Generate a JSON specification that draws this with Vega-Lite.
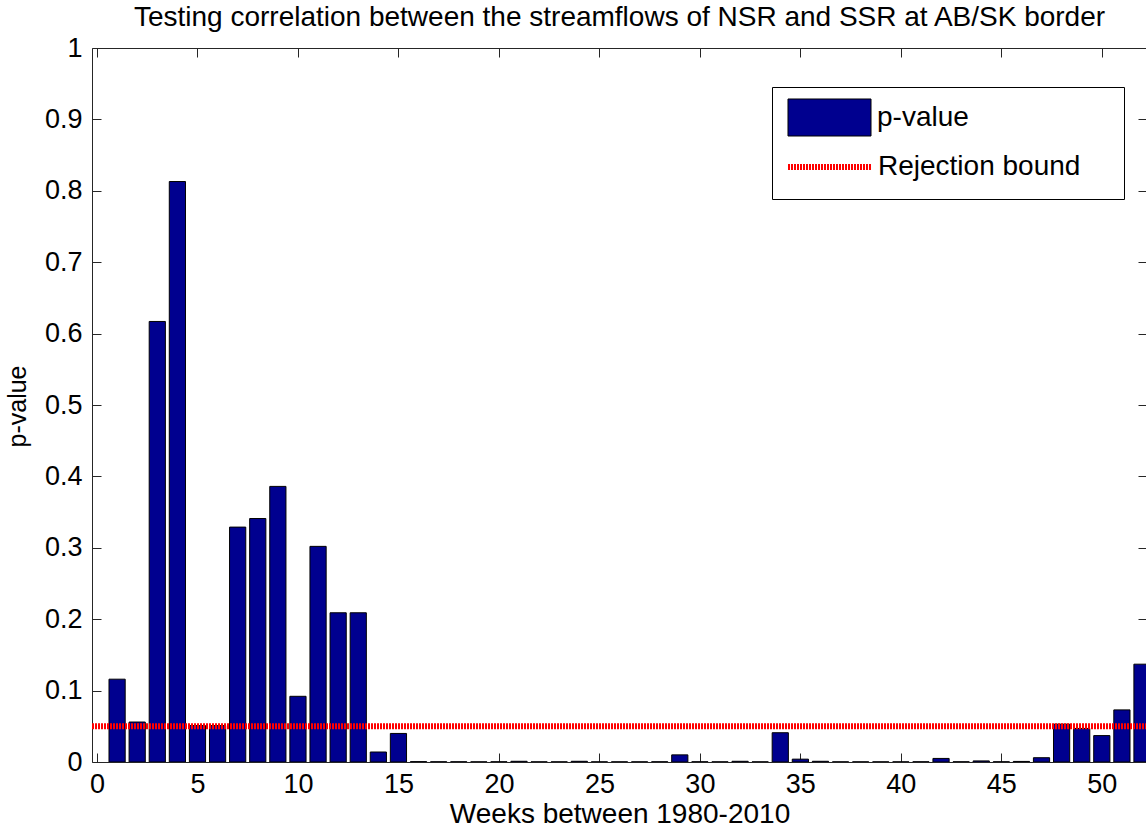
{
  "$schema": "https://vega.github.io/schema/vega-lite/v6.json",
  "width": 1055,
  "height": 714,
  "autosize": {"type": "none"},
  "padding": {"left": 92, "top": 48, "right": 0, "bottom": 67},
  "background": "white",
  "title": {
    "text": "Testing correlation between the streamflows of NSR and SSR at AB/SK border",
    "fontSize": 28,
    "font": "Liberation Sans",
    "fontWeight": "normal",
    "color": "black",
    "anchor": "middle",
    "baseline": "alphabetic",
    "offset": -20,
    "frame": "group"
  },
  "data": {
    "values": [
      {"week": 1, "p": 0.116}, {"week": 2, "p": 0.056}, {"week": 3, "p": 0.617}, {"week": 4, "p": 0.813},
      {"week": 5, "p": 0.051}, {"week": 6, "p": 0.051}, {"week": 7, "p": 0.329}, {"week": 8, "p": 0.341},
      {"week": 9, "p": 0.386}, {"week": 10, "p": 0.092}, {"week": 11, "p": 0.302}, {"week": 12, "p": 0.209},
      {"week": 13, "p": 0.209}, {"week": 14, "p": 0.014}, {"week": 15, "p": 0.040}, {"week": 16, "p": 0.0005},
      {"week": 17, "p": 0.0003}, {"week": 18, "p": 0.0003}, {"week": 19, "p": 0.0002}, {"week": 20, "p": 0.0003},
      {"week": 21, "p": 0.001}, {"week": 22, "p": 0.0002}, {"week": 23, "p": 0.0002}, {"week": 24, "p": 0.001},
      {"week": 25, "p": 0.0002}, {"week": 26, "p": 0.0002}, {"week": 27, "p": 0.0002}, {"week": 28, "p": 0.0003},
      {"week": 29, "p": 0.010}, {"week": 30, "p": 0.0003}, {"week": 31, "p": 0.0002}, {"week": 32, "p": 0.001},
      {"week": 33, "p": 0.0002}, {"week": 34, "p": 0.041}, {"week": 35, "p": 0.004}, {"week": 36, "p": 0.001},
      {"week": 37, "p": 0.0002}, {"week": 38, "p": 0.0002}, {"week": 39, "p": 0.0002}, {"week": 40, "p": 0.0002},
      {"week": 41, "p": 0.0003}, {"week": 42, "p": 0.005}, {"week": 43, "p": 0.0003}, {"week": 44, "p": 0.0015},
      {"week": 45, "p": 0.0003}, {"week": 46, "p": 0.0008}, {"week": 47, "p": 0.006}, {"week": 48, "p": 0.053},
      {"week": 49, "p": 0.047}, {"week": 50, "p": 0.037}, {"week": 51, "p": 0.073}, {"week": 52, "p": 0.137}
    ]
  },
  "layer": [
    {
      "mark": {"type": "bar", "width": 16.2, "stroke": "black", "strokeWidth": 1, "clip": true},
      "encoding": {
        "x": {
          "field": "week",
          "type": "quantitative",
          "scale": {"domain": [0, 52], "nice": false, "zero": false},
          "axis": {
            "orient": "bottom",
            "values": [0, 5, 10, 15, 20, 25, 30, 35, 40, 45, 50],
            "format": "d",
            "tickSize": -9,
            "tickColor": "#262626",
            "labelPadding": 18,
            "labelFontSize": 27,
            "labelColor": "black",
            "labelFlush": false,
            "domain": false,
            "grid": false,
            "title": "Weeks between 1980-2010",
            "titleFontSize": 28,
            "titleFontWeight": "normal",
            "titleColor": "black",
            "titleBaseline": "alphabetic",
            "titleY": 60
          }
        },
        "y": {
          "field": "p",
          "type": "quantitative",
          "scale": {"domain": [0, 1], "nice": false},
          "axis": {
            "orient": "left",
            "values": [0, 0.1, 0.2, 0.3, 0.4, 0.5, 0.6, 0.7, 0.8, 0.9, 1],
            "format": "~g",
            "tickSize": -9,
            "tickColor": "#262626",
            "labelPadding": 19,
            "labelFontSize": 27,
            "labelColor": "black",
            "labelFlush": false,
            "domain": false,
            "grid": false,
            "title": "p-value",
            "titleFontSize": 25,
            "titleFontWeight": "normal",
            "titleColor": "black",
            "titleBaseline": "alphabetic",
            "titleAlign": "center",
            "titleX": -67,
            "titleY": 358
          }
        },
        "fill": {
          "datum": "p-value",
          "scale": {"domain": ["p-value"], "range": ["#00008F"]},
          "legend": {
            "orient": "none",
            "legendX": 680,
            "legendY": 39,
            "zindex": 1,
            "direction": "vertical",
            "title": null,
            "padding": 12,
            "strokeColor": "black",
            "fillColor": "white",
            "symbolType": "M-2.306,-1.028H2.306V1.028H-2.306Z M15.55,0 M0,3.72",
            "symbolSize": 1296,
            "symbolStrokeWidth": 1,
            "symbolStrokeColor": "black",
            "symbolOpacity": 1,
            "symbolOffset": 27,
            "labelOffset": 29,
            "labelFontSize": 28,
            "labelColor": "black",
            "labelLimit": 500
          }
        }
      }
    },
    {
      "data": {"values": [{"bound": 0.05}]},
      "mark": {"type": "rule", "strokeWidth": 6, "strokeDash": [2, 1]},
      "encoding": {
        "y": {"field": "bound", "type": "quantitative", "axis": null},
        "stroke": {
          "datum": "Rejection bound",
          "scale": {"domain": ["Rejection bound"], "range": ["#FF0000"]},
          "legend": {
            "orient": "none",
            "legendX": 692,
            "legendY": 98,
            "zindex": 2,
            "direction": "vertical",
            "title": null,
            "padding": 0,
            "symbolType": "M-2.306,0H2.306",
            "symbolSize": 1296,
            "symbolStrokeWidth": 6,
            "symbolDash": [2, 1],
            "symbolOpacity": 1,
            "symbolOffset": 24.5,
            "labelOffset": 27.5,
            "labelFontSize": 28,
            "labelColor": "black",
            "labelLimit": 500
          }
        }
      }
    },
    {
      "mark": {"type": "point", "opacity": 0},
      "encoding": {
        "x": {
          "field": "week",
          "type": "quantitative",
          "axis": {
            "orient": "top",
            "values": [0, 5, 10, 15, 20, 25, 30, 35, 40, 45, 50],
            "labels": false,
            "tickSize": -9,
            "tickColor": "#262626",
            "domain": false,
            "grid": false,
            "title": null
          }
        },
        "y": {
          "field": "p",
          "type": "quantitative",
          "axis": {
            "orient": "right",
            "values": [0, 0.1, 0.2, 0.3, 0.4, 0.5, 0.6, 0.7, 0.8, 0.9, 1],
            "labels": false,
            "tickSize": -9,
            "tickColor": "#262626",
            "domain": false,
            "grid": false,
            "title": null
          }
        }
      }
    }
  ],
  "resolve": {"axis": {"x": "independent", "y": "independent"}},
  "config": {
    "font": "Liberation Sans",
    "view": {"stroke": "#262626", "strokeWidth": 1},
    "axis": {"labelFont": "Liberation Sans", "titleFont": "Liberation Sans"},
    "legend": {"labelFont": "Liberation Sans"}
  }
}
